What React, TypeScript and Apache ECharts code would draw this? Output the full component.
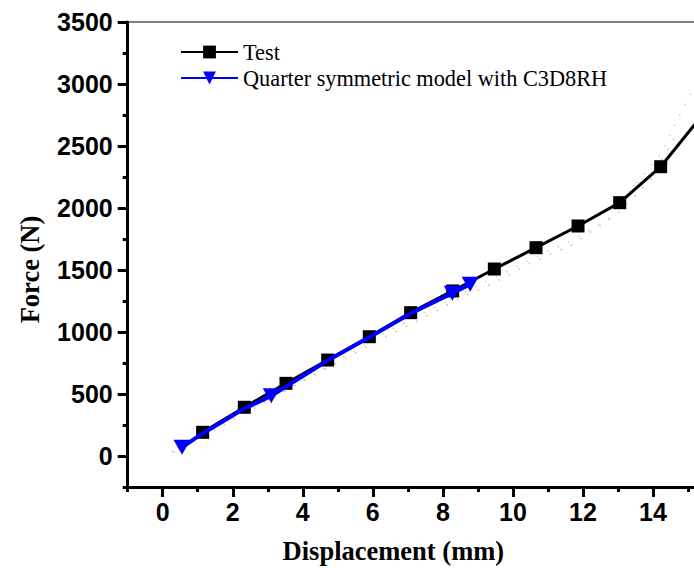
import React, { useEffect, useRef } from "react";
import * as echarts from "echarts";

const testX = [1.14, 2.33, 3.52, 4.71, 5.9, 7.08, 8.28, 9.47, 10.66, 11.86, 13.05, 14.22, 15.44];
const testY = [191, 393, 586, 774, 962, 1156, 1331, 1508, 1680, 1855, 2043, 2333, 2760];

const modelX = [0.55, 1.14, 2.33, 3.1, 4.71, 5.9, 7.08, 8.27, 8.78];
const modelY = [70, 182, 382, 485, 770, 958, 1150, 1312, 1386];
const modelMarked = [true, false, false, true, false, false, false, true, true];

const redX = [0.3, 2.0, 4.39, 6.3, 7.26, 8.21, 9.16, 9.8, 10.43, 11.71, 12.98, 13.62, 13.93, 14.6];
const redY = [30, 290, 661, 954, 1089, 1231, 1361, 1446, 1546, 1707, 1952, 2137, 2226, 2560];
const greenX = [0.26, 2.0, 3.73, 6.3, 8.21, 10.43, 11.7, 12.7, 14.26, 14.57, 15.2];
const greenY = [35, 310, 565, 985, 1262, 1575, 1740, 1910, 2449, 2637, 3000];

const xMajor = [0, 2, 4, 6, 8, 10, 12, 14, 16];
const xLabels = [0, 2, 4, 6, 8, 10, 12, 14];
const xMinor = [-1, 1, 3, 5, 7, 9, 11, 13, 15];
const yMajor = [0, 500, 1000, 1500, 2000, 2500, 3000, 3500];
const yMinor = [-250, 250, 750, 1250, 1750, 2250, 2750, 3250];

const TEST = "Test";
const MODEL = "Quarter symmetric model with C3D8RH";

const sans = "'Liberation Sans', Arial, sans-serif";
const serif = "'Liberation Serif', 'Times New Roman', serif";

export default function App() {
  const ref = useRef<HTMLDivElement>(null);
  useEffect(() => {
    if (!ref.current) return;
    const chart = echarts.init(ref.current, null, { renderer: "svg" });
    const tickLine = { color: "#000", width: 3 };
    const baseLabel = {
      fontSize: 25,
      fontWeight: "bold" as const,
      fontFamily: sans,
      color: "#000",
      formatter: (v: number) => String(v),
    };
    chart.setOption({
      animation: false,
      backgroundColor: "#fff",
      grid: {
        left: 127.7,
        right: 0,
        top: 22,
        bottom: 81,
        show: true,
        borderColor: "#000",
        borderWidth: 1,
        containLabel: false,
        outerBoundsMode: "none",
      },
      legend: {
        data: [TEST, MODEL],
        orient: "vertical",
        left: 180,
        top: 41,
        padding: 0,
        itemWidth: 57,
        itemHeight: 16,
        itemGap: 4,
        textStyle: { fontFamily: serif, fontSize: 22.3, color: "#000" },
      },
      xAxis: [
        {
          type: "value",
          min: -1,
          max: 16,
          position: "bottom",
          axisLine: { show: true, onZero: false, lineStyle: tickLine },
          axisTick: { show: true, inside: false, length: 10, lineStyle: tickLine, customValues: xMajor },
          axisLabel: { ...baseLabel, margin: 12, customValues: xLabels },
          splitLine: { show: false },
          name: "Displacement (mm)",
          nameLocation: "middle",
          nameGap: 50,
          nameTextStyle: {
            fontFamily: serif,
            fontSize: 26.5,
            fontWeight: "bold",
            color: "#000",
            padding: [0, 64, 0, 0],
          },
        },
        {
          type: "value",
          min: -1,
          max: 16,
          position: "bottom",
          offset: 0,
          axisLine: { show: false, onZero: false },
          axisTick: { show: true, inside: false, length: 5, lineStyle: tickLine, customValues: xMinor },
          axisLabel: { show: false },
          splitLine: { show: false },
        },
      ],
      yAxis: [
        {
          type: "value",
          min: -250,
          max: 3500,
          position: "left",
          axisLine: { show: true, onZero: false, lineStyle: tickLine },
          axisTick: { show: true, inside: false, length: 10, lineStyle: tickLine, customValues: yMajor },
          axisLabel: { ...baseLabel, margin: 15, customValues: yMajor },
          splitLine: { show: false },
          name: "Force (N)",
          nameLocation: "middle",
          nameGap: 84,
          nameTextStyle: {
            fontFamily: serif,
            fontSize: 26.5,
            fontWeight: "bold",
            color: "#000",
            padding: [0, 30, 0, 0],
          },
        },
        {
          type: "value",
          min: -250,
          max: 3500,
          position: "left",
          offset: 0,
          axisLine: { show: false, onZero: false },
          axisTick: { show: true, inside: false, length: 5, lineStyle: tickLine, customValues: yMinor },
          axisLabel: { show: false },
          splitLine: { show: false },
        },
      ],
      series: [
        {
          name: "red-dots",
          type: "line",
          silent: true,
          symbol: "none",
          data: redX.map((x, i) => [x, redY[i]]),
          lineStyle: { color: "#ff3030", width: 1.5, type: [1.5, 10], opacity: 0.45 },
          z: 1,
        },
        {
          name: "green-dots",
          type: "line",
          silent: true,
          symbol: "none",
          data: greenX.map((x, i) => [x, greenY[i]]),
          lineStyle: { color: "#30d030", width: 1.5, type: [1.5, 10], opacity: 0.45 },
          z: 1,
        },
        {
          name: TEST,
          type: "line",
          symbol: "rect",
          symbolSize: 13,
          data: testX.map((x, i) => [x, testY[i]]),
          itemStyle: { color: "#000" },
          lineStyle: { color: "#000", width: 3 },
          z: 3,
        },
        {
          name: MODEL,
          type: "line",
          symbol: "triangle",
          symbolRotate: 180,
          symbolSize: [17, 15],
          data: modelX.map((x, i) =>
            modelMarked[i] ? { value: [x, modelY[i]] } : { value: [x, modelY[i]], symbol: "none" }
          ),
          itemStyle: { color: "#0000ff" },
          lineStyle: { color: "#0000ff", width: 4 },
          z: 4,
        },
      ],
    });
    return () => chart.dispose();
  }, []);
  return (
    <div
      ref={ref}
      style={{ position: "fixed", left: 0, top: 0, width: 722.7, height: 568, background: "#fff" }}
    />
  );
}
